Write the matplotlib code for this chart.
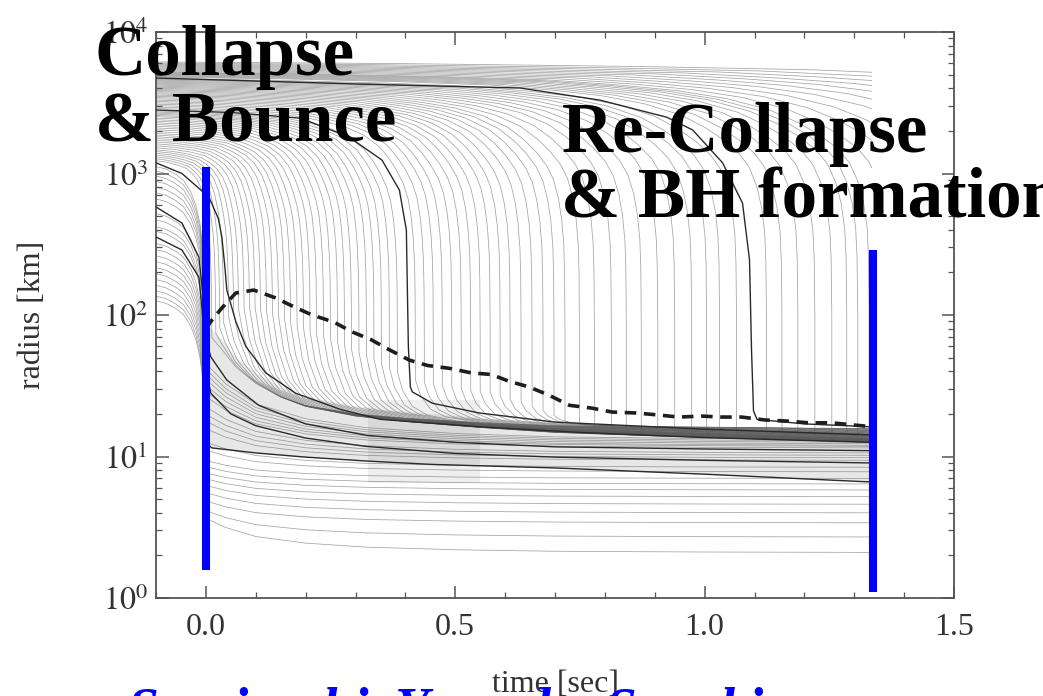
import numpy as np
import matplotlib
matplotlib.use("Agg")
import matplotlib.pyplot as plt
from matplotlib.patches import Rectangle
from matplotlib.ticker import MultipleLocator, FuncFormatter, LogLocator

plt.rcParams["mathtext.fontset"] = "stix"
SERIF = "Liberation Serif"

# ---- values ----
# shock radius (dashed)
shock_t = [0.0, 0.012, 0.032, 0.06, 0.096, 0.14, 0.177, 0.213, 0.257, 0.293,
           0.331, 0.367, 0.408, 0.444, 0.488, 0.532, 0.572, 0.608, 0.648, 0.689,
           0.729, 0.773, 0.815, 0.863, 0.904, 0.948, 0.994, 1.034, 1.074, 1.122,
           1.165, 1.209, 1.255, 1.299, 1.33]
shock_r = [80, 92, 112, 143, 150, 132, 114, 100, 89, 76,
           67, 57, 48, 44, 42, 39, 38, 34, 31, 27,
           23, 22, 20.6, 20.3, 19.7, 19.0, 19.3, 19.0, 19.0, 18.1,
           17.8, 17.3, 17.3, 16.7, 16.3]

# highlighted (dark) mass shells
dark_a_t = [-0.1, 0.3, 0.63, 0.79, 0.924, 0.976, 1.036, 1.076, 1.090, 1.094, 1.098, 1.105, 1.2, 1.335]
dark_a_r = [4730, 4290, 4020, 3300, 2500, 2030, 1190, 617, 245, 57, 21, 18.3, 17.0, 16.2]
dark_b_t = [-0.1, 0.05, 0.19, 0.287, 0.353, 0.388, 0.402, 0.404, 0.406, 0.41, 0.414, 0.454, 0.548, 0.70, 1.0, 1.335]
dark_b_r = [2810, 2700, 2460, 1810, 1245, 764, 398, 150, 60, 31, 28.6, 23.8, 20.3, 17.5, 15.6, 14.2]
dark_c_t = [-0.1, -0.048, 0.006, 0.025, 0.032, 0.038, 0.042, 0.06, 0.08, 0.12, 0.18, 0.27, 0.35, 0.55, 0.75, 1.0, 1.335]
dark_c_r = [1190, 1000, 682, 480, 356, 220, 150, 90, 60, 39, 28, 21.5, 18.3, 16.2, 14.8, 13.6, 12.6]
dark_d_t = [-0.1, -0.048, -0.014, -0.004, 0.004, 0.01, 0.042, 0.106, 0.2, 0.323, 0.5, 0.7, 1.0, 1.335]
dark_d_r = [580, 447, 257, 120, 60, 50.5, 34.7, 23, 17, 14.1, 12.6, 11.7, 11.3, 11.0]
dark_e_t = [-0.1, -0.048, -0.014, -0.004, 0.004, 0.01, 0.05, 0.1, 0.2, 0.32, 0.5, 0.7, 1.0, 1.335]
dark_e_r = [356, 288, 185, 80, 35, 28, 20, 16.5, 13.5, 11.8, 10.5, 9.9, 9.4, 9.0]
dark_f_t = [0.0, 0.012, 0.1, 0.2, 0.32, 0.45, 0.7, 1.0, 1.335]
dark_f_r = [12.5, 11.5, 10.6, 9.9, 9.3, 8.8, 8.3, 7.5, 6.6]

# thin outer shells: time of the steep plunge and radius at t = -0.1 s
outer_td = [0.012, 0.02, 0.028, 0.036, 0.046, 0.056, 0.066, 0.077, 0.088, 0.099,
            0.11, 0.122, 0.134, 0.146, 0.158, 0.17, 0.183, 0.196, 0.209, 0.222,
            0.236, 0.25, 0.264, 0.278, 0.292, 0.307, 0.322, 0.337, 0.352, 0.368, 0.384,
            0.42, 0.438, 0.456, 0.474, 0.493, 0.512, 0.531, 0.55, 0.57, 0.59,
            0.61, 0.632, 0.654, 0.676, 0.698, 0.72, 0.749, 0.779, 0.813, 0.843,
            0.873, 0.906, 0.94, 0.974, 1.004, 1.03, 1.064,
            1.124, 1.155, 1.187, 1.221, 1.255, 1.285, 1.307, 1.33,
            1.37, 1.42, 1.48, 1.55, 1.63, 1.72, 1.82, 1.95, 2.1, 2.3]
outer_r0 = [1230, 1270, 1310, 1350, 1390, 1430, 1470, 1520, 1570, 1620,
            1670, 1720, 1770, 1820, 1870, 1920, 1980, 2040, 2100, 2160,
            2220, 2280, 2340, 2400, 2460, 2520, 2570, 2620, 2670, 2720, 2770,
            2880, 2950, 3020, 3090, 3160, 3230, 3300, 3370, 3440, 3510,
            3580, 3650, 3720, 3790, 3860, 3930, 4000, 4070, 4140, 4210,
            4280, 4350, 4420, 4490, 4560, 4620, 4680,
            4790, 4850, 4910, 4970, 5030, 5090, 5150, 5210,
            5300, 5390, 5480, 5570, 5660, 5750, 5840, 5930, 6030, 6140]

# thin inner shells: radius at t = -0.1 s, just after bounce, at the end
core_r0 = [1120, 1040, 960, 880, 800, 730, 660, 520, 470, 420, 390,
           320, 290, 262, 238, 216, 196, 178, 162, 148, 136, 126]
core_rb = [44, 40, 37, 34, 31, 28, 26, 22, 19.5, 17.5, 15.5,
           12.5, 11, 9.3, 8.4, 7.6, 6.9, 6.2, 5.5, 4.8, 4.1, 3.6]
core_re = [13.2, 12.9, 12.6, 12.3, 12.0, 11.8, 11.5, 10.6, 10.2, 9.8, 9.4,
           8.4, 7.8, 7.0, 6.4, 5.8, 5.2, 4.6, 4.0, 3.4, 2.7, 2.1]

# shape of a plunging shell, read from the dark shells (fraction of elapsed time left, r / r0)
fall_u = [1.0, 0.8, 0.6, 0.45, 0.35, 0.27, 0.2, 0.14, 0.1, 0.07, 0.045, 0.028, 0.016, 0.008, 0.003, 0.001, 0.0]
fall_f = [1.0, 0.975, 0.93, 0.88, 0.81, 0.74, 0.65, 0.54, 0.44, 0.36, 0.29, 0.23, 0.17, 0.12, 0.08, 0.05, 0.02]
core_dt = [-0.1, -0.08, -0.06, -0.045, -0.03, -0.02, -0.012, -0.006, -0.002, 0.0]
core_f = [1.0, 0.96, 0.88, 0.8, 0.66, 0.53, 0.4, 0.27, 0.15, 0.08]
settle_t = [0.004, 0.04, 0.1, 0.2, 0.32, 0.5, 0.7, 1.0, 1.335]
settle_g = [1.0, 0.75, 0.48, 0.28, 0.16, 0.08, 0.035, 0.012, 0.0]
# top of the settled accretion layer
layer_t = [0.0, 0.03, 0.06, 0.1, 0.15, 0.2, 0.3, 0.4, 0.55, 0.7, 0.9, 1.1, 1.335]
layer_r = [90, 70, 52, 40, 32, 27.5, 23.5, 21.5, 19.5, 18.0, 17.0, 16.2, 15.3]
join_dt = [0.0, 0.01, 0.03, 0.06, 0.12]
join_g = [1.0, 0.6, 0.25, 0.08, 0.0]

bh_t = [0.0, 1.337]
bh_lo = [1.58, 1.10]
bh_hi = [1110, 288]

T_END = 1.335


def log_interp(t, xs, rs):
    return 10 ** np.interp(t, xs, np.log10(rs))


def outer_shell(td, r0, depth):
    t_pre = td - np.array(fall_u) * (td + 0.1)
    r_pre = r0 * np.array(fall_f)
    r_bot = 0.75 * log_interp(td, shock_t, shock_r)
    r_pre = np.maximum(r_pre, r_bot)
    if td >= T_END:
        keep = t_pre <= T_END
        r_cut = 10 ** np.interp(T_END, t_pre, np.log10(r_pre))
        return np.append(t_pre[keep], T_END), np.append(r_pre[keep], r_cut)
    tp = np.unique(np.concatenate([td + np.array(join_dt), np.array(layer_t)]))
    tp = tp[(tp >= td) & (tp <= T_END)]
    base = np.log10(depth * log_interp(tp, layer_t, layer_r))
    base0 = np.log10(depth * log_interp(td, layer_t, layer_r))
    lr = base + (np.log10(r_bot) - base0) * np.interp(tp - td, join_dt, join_g)
    return np.concatenate([t_pre, tp]), np.concatenate([r_pre, 10 ** lr])


def core_shell(r0, rb, re):
    t = np.concatenate([core_dt, settle_t])
    lr_post = np.log10(re) + np.array(settle_g) * (np.log10(rb) - np.log10(re))
    r = np.concatenate([r0 * np.array(core_f), 10 ** lr_post])
    return t, r


fig = plt.figure(figsize=(10.43, 6.96), dpi=100)
ax = fig.add_axes([156 / 1043, 1 - 598 / 696, (954 - 156) / 1043, (598 - 32) / 696])
ax.set_yscale("log")

# soft gray of the crowded shells in the accretion layer
tg = np.linspace(0.004, T_END, 300)
ax.fill_between(tg, log_interp(tg, dark_f_t, dark_f_r), 0.97 * log_interp(tg, layer_t, layer_r),
                color="0.45", alpha=0.17, lw=0, zorder=0.5)
ax.add_patch(Rectangle((0.325, 6.5), 0.225, 18.5, color="0.4", alpha=0.1, lw=0, zorder=0.6))

thin = dict(color="0.35", lw=0.55, alpha=0.55, zorder=1)
for td, r0 in zip(outer_td, outer_r0):
    depth = np.interp(td, [0.0, T_END], [0.82, 1.05])
    t, r = outer_shell(td, r0, depth)
    ax.plot(t, r, **thin)
for r0, rb, re in zip(core_r0, core_rb, core_re):
    t, r = core_shell(r0, rb, re)
    ax.plot(t, r, **thin)

dark = dict(color="#2a2a2a", lw=1.0, zorder=3)
for t, r in [(dark_a_t, dark_a_r), (dark_b_t, dark_b_r), (dark_c_t, dark_c_r),
             (dark_d_t, dark_d_r), (dark_e_t, dark_e_r), (dark_f_t, dark_f_r)]:
    ax.plot(t, r, **dark)

ax.plot(shock_t, shock_r, color="#1e1e1e", lw=2.6, dashes=(3.2, 2.1), zorder=4)

for t, lo, hi in zip(bh_t, bh_lo, bh_hi):
    ax.plot([t, t], [lo, hi], color="#0000ff", lw=5.8, solid_capstyle="butt", zorder=5)

ax.set_xlim(-0.1, 1.5)
ax.set_ylim(1, 1e4)
ax.xaxis.set_major_locator(MultipleLocator(0.5))
ax.xaxis.set_minor_locator(MultipleLocator(0.1))
ax.xaxis.set_major_formatter(FuncFormatter(lambda v, p: f"{v:.1f}"))
ax.yaxis.set_major_locator(LogLocator(base=10, numticks=10))
ax.yaxis.set_minor_locator(LogLocator(base=10, subs=np.arange(2, 10), numticks=10))
ax.yaxis.set_major_formatter(FuncFormatter(lambda v, p: r"$10^{%d}$" % round(np.log10(v))))

ax.tick_params(which="both", direction="in", top=True, right=True, color="#555555",
               labelcolor="#333333", labelsize=23)
ax.tick_params(which="major", length=9, width=1.1)
ax.tick_params(which="minor", length=4.5, width=0.9)
ax.tick_params(axis="x", pad=11)
ax.tick_params(axis="y", pad=6)
for lab in ax.get_xticklabels():
    lab.set_family(SERIF)
for s in ax.spines.values():
    s.set_color("#555555")
    s.set_linewidth(1.3)

ax.set_xlabel("time [sec]", family=SERIF, fontsize=23, color="#333333", labelpad=20)
ax.set_ylabel("radius [km]", family=SERIF, fontsize=23, color="#333333", labelpad=40)

big = dict(family=SERIF, fontsize=51, fontweight="bold", color="black",
           ha="left", va="baseline")
fig.text(95 / 1043, 1 - 75 / 696, "Collapse", **big)
fig.text(95 / 1043, 1 - 142 / 696, "& Bounce", **big)
fig.text(562 / 1043, 1 - 152 / 696, "Re-Collapse", **big)
fig.text(561 / 1043, 1 - 218 / 696, "& BH formation", **big)
fig.text(128 / 1043, 1 - 727 / 696, "Sumiyoshi, Yamada, Suzuki", family=SERIF,
         fontsize=40, fontweight="bold", fontstyle="italic", color="#0000ff",
         ha="left", va="baseline")

fig.savefig("out.png", dpi=100)
